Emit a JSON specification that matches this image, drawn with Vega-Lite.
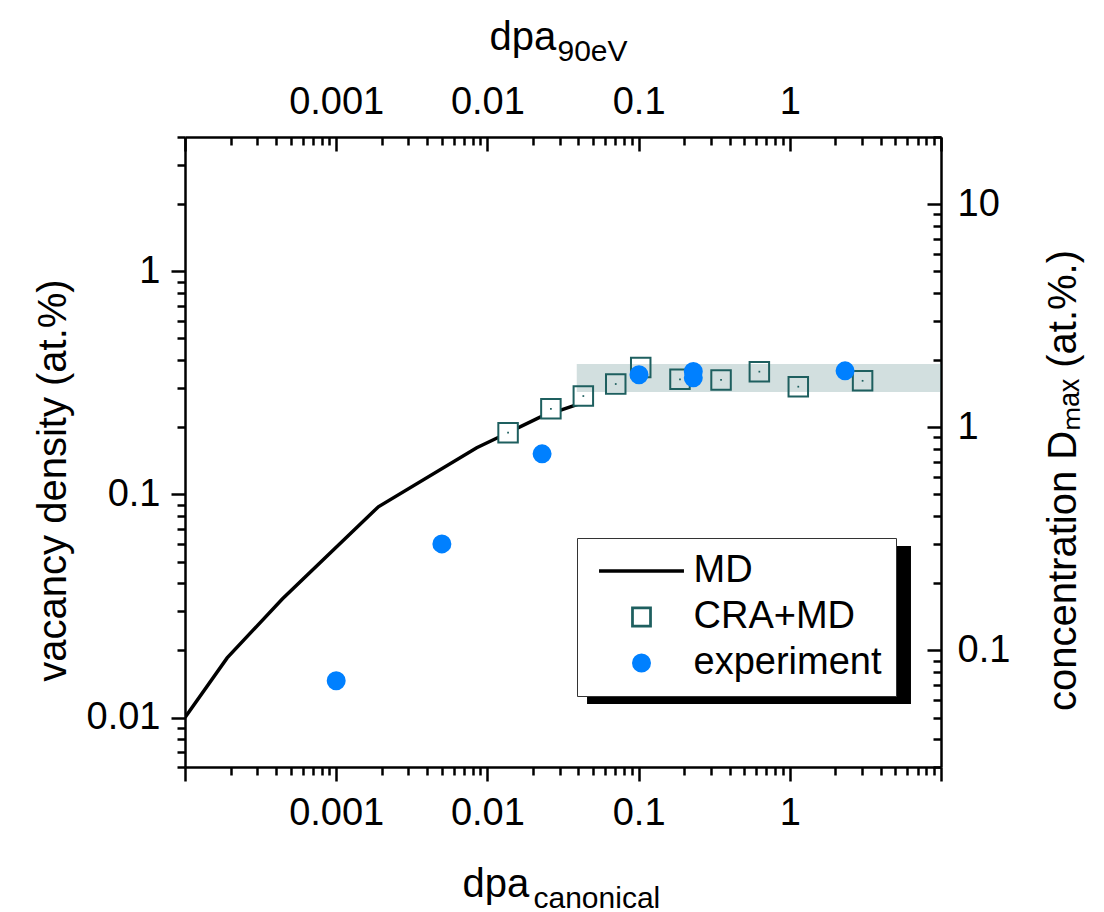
{
  "$schema": "https://vega.github.io/schema/vega-lite/v6.json",
  "width": 756,
  "height": 630,
  "autosize": {"type": "none"},
  "padding": {"left": 185, "top": 137, "right": 163, "bottom": 145},
  "background": "white",
  "config": {
    "view": {"stroke": null},
    "font": "Liberation Sans",
    "axis": {
      "grid": false,
      "labelFont": "Liberation Sans",
      "labelFontSize": 38,
      "labelColor": "black",
      "labelOverlap": false,
      "labelFlush": false,
      "labelBound": false,
      "tickColor": "black",
      "tickWidth": 2.5,
      "domainColor": "black",
      "domainWidth": 2.5,
      "titleFont": "Liberation Sans",
      "titleFontWeight": "normal",
      "titleColor": "black"
    }
  },
  "data": {
    "values": [
      {"series": "MD", "dpa": 0.0001, "vac": 0.0100},
      {"series": "MD", "dpa": 0.00019, "vac": 0.0185},
      {"series": "MD", "dpa": 0.00044, "vac": 0.034},
      {"series": "MD", "dpa": 0.0019, "vac": 0.088},
      {"series": "MD", "dpa": 0.0085, "vac": 0.162},
      {"series": "MD", "dpa": 0.0137, "vac": 0.189},
      {"series": "MD", "dpa": 0.0223, "vac": 0.222},
      {"series": "MD", "dpa": 0.04, "vac": 0.254},
      {"series": "CRA+MD", "dpa": 0.0137, "vac": 0.189},
      {"series": "CRA+MD", "dpa": 0.0263, "vac": 0.242},
      {"series": "CRA+MD", "dpa": 0.0431, "vac": 0.276},
      {"series": "CRA+MD", "dpa": 0.0706, "vac": 0.3125},
      {"series": "CRA+MD", "dpa": 0.1033, "vac": 0.371},
      {"series": "CRA+MD", "dpa": 0.1878, "vac": 0.328},
      {"series": "CRA+MD", "dpa": 0.351, "vac": 0.326},
      {"series": "CRA+MD", "dpa": 0.629, "vac": 0.355},
      {"series": "CRA+MD", "dpa": 1.138, "vac": 0.304},
      {"series": "CRA+MD", "dpa": 3.03, "vac": 0.323},
      {"series": "experiment", "dpa": 0.001, "vac": 0.0146},
      {"series": "experiment", "dpa": 0.005, "vac": 0.060},
      {"series": "experiment", "dpa": 0.023, "vac": 0.152},
      {"series": "experiment", "dpa": 0.1006, "vac": 0.344},
      {"series": "experiment", "dpa": 0.23, "vac": 0.356},
      {"series": "experiment", "dpa": 0.23, "vac": 0.333},
      {"series": "experiment", "dpa": 2.32, "vac": 0.358}
    ]
  },
  "layer": [
    {
      "data": {"values": [{}]},
      "mark": {"type": "rect", "color": "black"},
      "encoding": {
        "x": {"datum": 0.0456, "type": "quantitative", "scale": {"type": "log", "domain": [0.0001, 10]}, "axis": null},
        "x2": {"datum": 6.33},
        "y": {"datum": 0.0587, "type": "quantitative", "scale": {"type": "log", "domain": [0.006, 4]}, "axis": null},
        "y2": {"datum": 0.0115}
      }
    },
    {
      "transform": [{"filter": "datum.series === 'MD'"}],
      "mark": {"type": "line", "color": "black", "strokeWidth": 3.5, "clip": true},
      "encoding": {
        "x": {
          "field": "dpa", "type": "quantitative",
          "scale": {"type": "log", "domain": [0.0001, 10]},
          "axis": {
            "orient": "bottom",
            "values": [0.0001,0.0002,0.0003,0.0004,0.0005,0.0006,0.0007,0.0008,0.0009,0.001,0.002,0.003,0.004,0.005,0.006,0.007,0.008,0.009,0.01,0.02,0.03,0.04,0.05,0.06,0.07,0.08,0.09,0.1,0.2,0.3,0.4,0.5,0.6,0.7,0.8,0.9,1,2,3,4,5,6,7,8,9,10],
            "format": "~g",
            "labelExpr": "indexof(['0.001','0.01','0.1','1'], datum.label) >= 0 ? datum.label : ''",
            "tickSize": {"condition": {"test": "abs(log(datum.value)/LN10 - round(log(datum.value)/LN10)) < 0.001", "value": 14}, "value": 8},
            "labelPadding": 13,
            "title": "dpa",
            "titleFontSize": 40,
            "titleAngle": 0,
            "titleAlign": "left",
            "titleBaseline": "alphabetic",
            "titleX": 277,
            "titleY": 129
          }
        },
        "y": {
          "field": "vac", "type": "quantitative",
          "scale": {"type": "log", "domain": [0.006, 4]},
          "axis": {
            "orient": "left",
            "values": [0.006,0.007,0.008,0.009,0.01,0.02,0.03,0.04,0.05,0.06,0.07,0.08,0.09,0.1,0.2,0.3,0.4,0.5,0.6,0.7,0.8,0.9,1,2,3,4],
            "format": "~g",
            "labelExpr": "indexof(['0.01','0.1','1'], datum.label) >= 0 ? datum.label : ''",
            "tickSize": {"condition": {"test": "abs(log(datum.value)/LN10 - round(log(datum.value)/LN10)) < 0.001", "value": 14}, "value": 8},
            "labelPadding": 11,
            "title": "vacancy density (at.%)",
            "titleFontSize": 40,
            "titleAngle": 270,
            "titleAlign": "center",
            "titleBaseline": "alphabetic",
            "titleX": -120,
            "titleY": 343
          }
        }
      }
    },
    {
      "transform": [{"filter": "datum.series === 'CRA+MD'"}],
      "mark": {"type": "point", "shape": "square", "filled": false, "fill": "white", "fillOpacity": 1, "stroke": "#1e5f5f", "strokeWidth": 2, "size": 380, "opacity": 1},
      "encoding": {
        "x": {
          "field": "dpa", "type": "quantitative",
          "scale": {"type": "log", "domain": [0.0001, 10]},
          "axis": {
            "orient": "top",
            "values": [0.0001,0.0002,0.0003,0.0004,0.0005,0.0006,0.0007,0.0008,0.0009,0.001,0.002,0.003,0.004,0.005,0.006,0.007,0.008,0.009,0.01,0.02,0.03,0.04,0.05,0.06,0.07,0.08,0.09,0.1,0.2,0.3,0.4,0.5,0.6,0.7,0.8,0.9,1,2,3,4,5,6,7,8,9,10],
            "format": "~g",
            "labelExpr": "indexof(['0.001','0.01','0.1','1'], datum.label) >= 0 ? datum.label : ''",
            "tickSize": {"condition": {"test": "abs(log(datum.value)/LN10 - round(log(datum.value)/LN10)) < 0.001", "value": -14}, "value": -8},
            "labelPadding": 30,
            "title": "dpa",
            "titleFontSize": 40,
            "titleAngle": 0,
            "titleAlign": "left",
            "titleBaseline": "alphabetic",
            "titleX": 304,
            "titleY": -88
          }
        },
        "y": {"field": "vac", "type": "quantitative", "scale": {"type": "log", "domain": [0.006, 4]}, "axis": null}
      }
    },
    {
      "transform": [{"filter": "datum.series === 'CRA+MD'"}],
      "mark": {"type": "point", "shape": "square", "filled": true, "color": "#1e5f5f", "size": 3, "opacity": 1},
      "encoding": {
        "x": {"field": "dpa", "type": "quantitative", "scale": {"type": "log", "domain": [0.0001, 10]}, "axis": null},
        "y": {"field": "vac", "type": "quantitative", "scale": {"type": "log", "domain": [0.006, 4]}, "axis": null}
      }
    },
    {
      "data": {"values": [{"dpa_from": 0.039, "dpa_to": 10, "dmax_low": 1.44, "dmax_high": 1.92}]},
      "mark": {"type": "rect", "color": "#1e5f5f", "opacity": 0.2, "clip": true},
      "encoding": {
        "x": {
          "field": "dpa_from", "type": "quantitative",
          "scale": {"type": "log", "domain": [0.0001, 10]},
          "axis": {
            "orient": "top", "domain": false, "ticks": false, "labels": false,
            "title": "90eV",
            "titleFontSize": 30,
            "titleAngle": 0,
            "titleAlign": "left",
            "titleBaseline": "alphabetic",
            "titleX": 372,
            "titleY": -77
          }
        },
        "x2": {"field": "dpa_to"},
        "y": {
          "field": "dmax_low", "type": "quantitative",
          "scale": {"type": "log", "domain": [0.03, 20]},
          "axis": {
            "orient": "right",
            "values": [0.03,0.04,0.05,0.06,0.07,0.08,0.09,0.1,0.2,0.3,0.4,0.5,0.6,0.7,0.8,0.9,1,2,3,4,5,6,7,8,9,10,20],
            "format": "~g",
            "labelExpr": "indexof(['0.1','1','10'], datum.label) >= 0 ? datum.label : ''",
            "tickSize": {"condition": {"test": "abs(log(datum.value)/LN10 - round(log(datum.value)/LN10)) < 0.001", "value": -14}, "value": -8},
            "labelPadding": 30,
            "title": "concentration Dₘₐₓ (at.%.)",
            "titleFontSize": 40,
            "titleAngle": 270,
            "titleAlign": "center",
            "titleBaseline": "alphabetic",
            "titleX": 134,
            "titleY": 343
          }
        },
        "y2": {"field": "dmax_high"}
      }
    },
    {
      "transform": [{"filter": "datum.series === 'experiment'"}],
      "mark": {"type": "point", "filled": true, "opacity": 1},
      "encoding": {
        "x": {
          "field": "dpa", "type": "quantitative",
          "scale": {"type": "log", "domain": [0.0001, 10]},
          "axis": {
            "orient": "bottom", "domain": false, "ticks": false, "labels": false,
            "title": "canonical",
            "titleFontSize": 30,
            "titleAngle": 0,
            "titleAlign": "left",
            "titleBaseline": "alphabetic",
            "titleX": 348,
            "titleY": 140
          }
        },
        "y": {"field": "vac", "type": "quantitative", "scale": {"type": "log", "domain": [0.006, 4]}, "axis": null},
        "fill": {
          "field": "series", "type": "nominal",
          "scale": {"domain": ["MD", "CRA+MD", "experiment"], "range": ["transparent", "white", "#0080ff"]},
          "legend": {
            "orient": "none",
            "legendX": 392,
            "legendY": 401,
            "title": null,
            "fillColor": "white",
            "strokeColor": "#333333",
            "padding": 14,
            "rowPadding": 8,
            "symbolOffset": 31.5,
            "labelFont": "Liberation Sans",
            "labelFontSize": 38,
            "labelColor": "black",
            "labelOffset": 33,
            "labelLimit": 0
          }
        },
        "stroke": {
          "field": "series", "type": "nominal",
          "scale": {"domain": ["MD", "CRA+MD", "experiment"], "range": ["black", "#1e5f5f", "#0080ff"]}
        },
        "shape": {
          "field": "series", "type": "nominal",
          "scale": {"domain": ["MD", "CRA+MD", "experiment"], "range": ["M-4.47,0H4.47", "square", "circle"]}
        },
        "size": {
          "field": "series", "type": "ordinal",
          "scale": {"domain": ["MD", "CRA+MD", "experiment"], "range": [361, 289, 340]}
        },
        "strokeWidth": {
          "field": "series", "type": "ordinal",
          "scale": {"domain": ["MD", "CRA+MD", "experiment"], "range": [3.5, 2, 0]}
        }
      }
    }
  ],
  "resolve": {
    "scale": {"y": "independent"},
    "axis": {"x": "independent", "y": "independent"}
  }
}
